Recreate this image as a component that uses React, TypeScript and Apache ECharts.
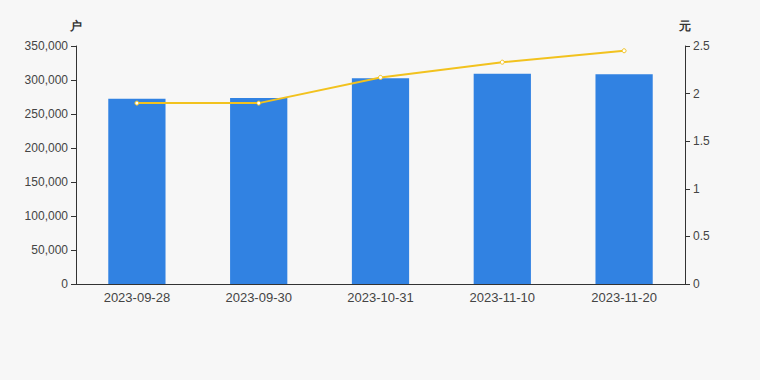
import React, { useEffect, useRef } from "react";
import * as echarts from "echarts";

const categories = ["2023-09-28", "2023-09-30", "2023-10-31", "2023-11-10", "2023-11-20"];
const holders = [272500, 273500, 302500, 309300, 308400];
const prices = [1.9, 1.9, 2.17, 2.33, 2.45];

export default function App() {
  const ref = useRef<HTMLDivElement>(null);
  useEffect(() => {
    document.body.style.margin = "0";
    document.body.style.background = "#f7f7f7";
    const chart = echarts.init(ref.current!, null, { renderer: "svg" });
    chart.setOption({
      animation: false,
      backgroundColor: "#f7f7f7",
      grid: { left: 76, right: 75, top: 46, bottom: 96 },
      xAxis: {
        type: "category",
        data: categories,
        axisLine: { lineStyle: { color: "#333" } },
        axisTick: { lineStyle: { color: "#333" } },
        axisLabel: { color: "#444", fontSize: 13, margin: 7, fontFamily: "Arial, Liberation Sans, sans-serif" },
      },
      yAxis: [
        {
          type: "value",
          name: "户",
          min: 0,
          max: 350000,
          interval: 50000,
          nameGap: 14,
          nameTextStyle: { color: "#333", fontSize: 12, fontWeight: "bold" },
          splitLine: { show: false },
          axisLine: { show: true, lineStyle: { color: "#333" } },
          axisTick: { show: true, lineStyle: { color: "#333" } },
          axisLabel: {
            color: "#444",
            fontSize: 12,
            fontFamily: "Arial, Liberation Sans, sans-serif",
            formatter: (v: number) => v.toLocaleString("en-US"),
          },
        },
        {
          type: "value",
          name: "元",
          min: 0,
          max: 2.5,
          interval: 0.5,
          nameGap: 14,
          nameTextStyle: { color: "#333", fontSize: 12, fontWeight: "bold" },
          splitLine: { show: false },
          axisLine: { show: true, lineStyle: { color: "#333" } },
          axisTick: { show: true, lineStyle: { color: "#333" } },
          axisLabel: { color: "#444", fontSize: 12, fontFamily: "Arial, Liberation Sans, sans-serif" },
        },
      ],
      series: [
        {
          type: "bar",
          data: holders,
          barWidth: "47%",
          itemStyle: { color: "#3182e2" },
        },
        {
          type: "line",
          yAxisIndex: 1,
          data: prices,
          symbol: "circle",
          symbolSize: 4,
          lineStyle: { color: "#f2c21e", width: 2 },
          itemStyle: { color: "#fff", borderColor: "#f2c21e", borderWidth: 1 },
        },
      ],
    });
    return () => chart.dispose();
  }, []);
  return <div ref={ref} style={{ width: 760, height: 380 }} />;
}
